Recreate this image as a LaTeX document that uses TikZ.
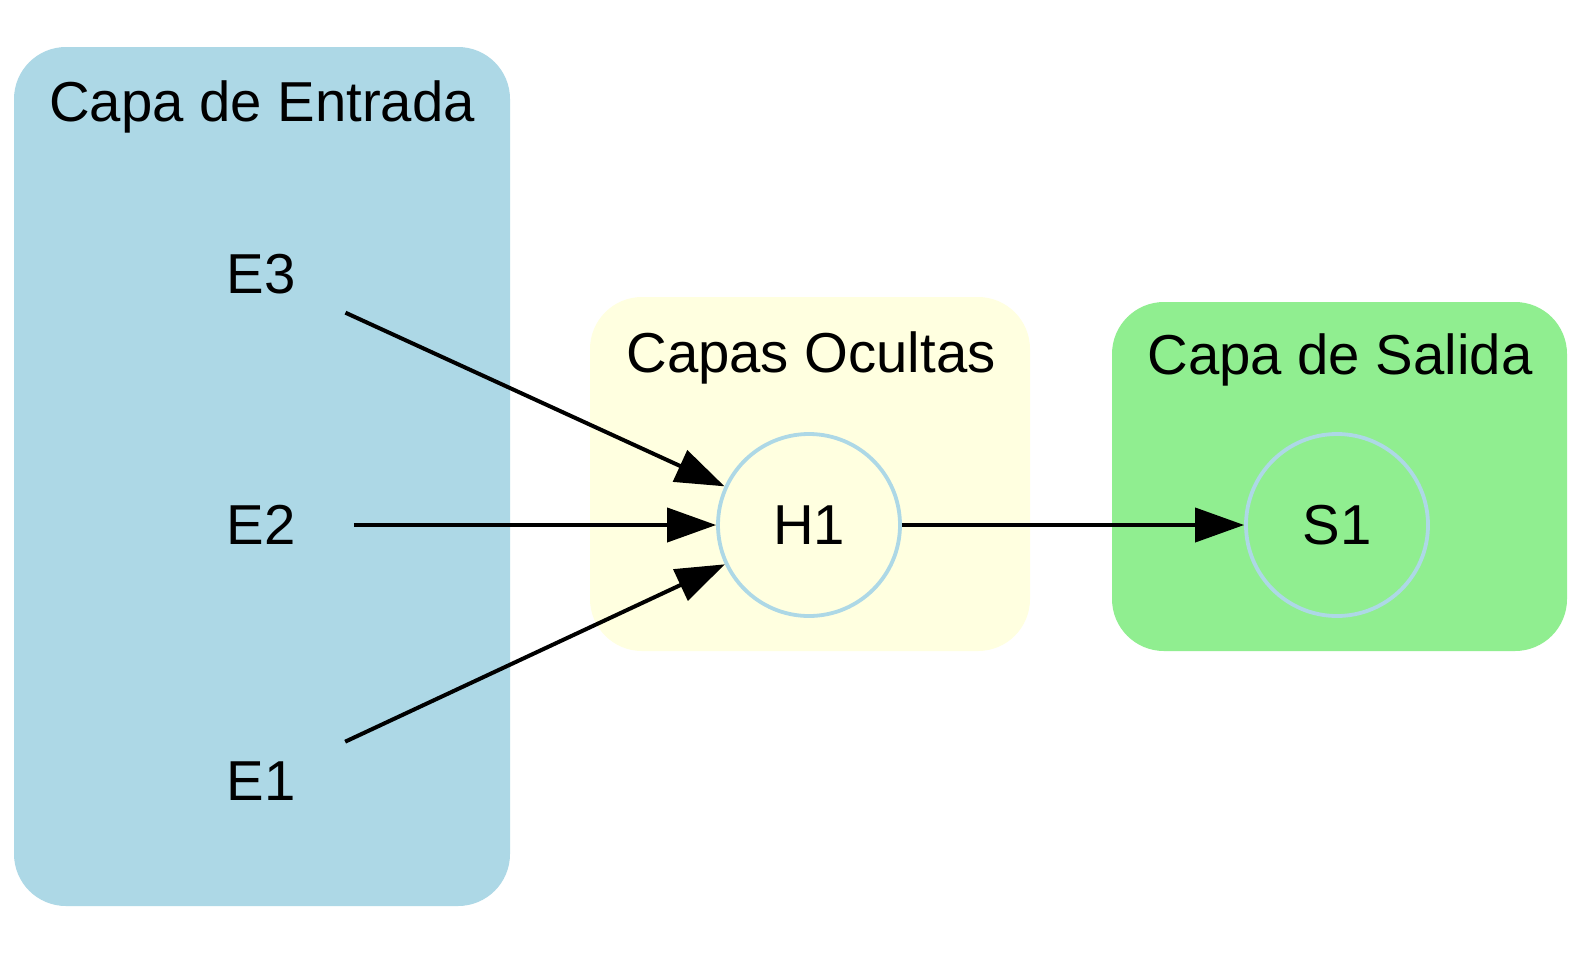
\documentclass[tikz,border=0pt]{standalone}
\usepackage{fontspec}
\setmainfont{Liberation Sans}
\usetikzlibrary{arrows.meta}
\definecolor{lblue}{HTML}{ADD8E6}
\definecolor{lyellow}{HTML}{FFFFE0}
\definecolor{lgreen}{HTML}{90EE90}
\begin{document}
\begin{tikzpicture}[x=1pt,y=-1pt,
  every node/.style={font=\fontsize{56.3}{68}\selectfont},
  neuron/.style={circle,draw=lblue,line width=3.8pt,minimum size=182pt,inner sep=0pt},
  cluster/.style={rounded corners=52pt},
  conn/.style={line width=4pt,-{Triangle[length=49pt,width=34pt]}}]
\useasboundingbox (0,0) rectangle (1581,954);
\fill[white] (0,0) rectangle (1581,954);
% clusters
\fill[lblue,cluster] (14,47) rectangle (510,906);
\fill[lyellow,cluster] (590,297) rectangle (1030,651);
\fill[lgreen,cluster] (1112,302) rectangle (1567,651);
\node (tin) at (262,107) {Capa de Entrada};
\node (thid) at (811,358) {Capas Ocultas};
\node (tout) at (1340,360) {Capa de Salida};
% neurons
\node[neuron,fill=lblue] (E3) at (261,274) {E3};
\node[neuron,fill=lblue] (E2) at (261,525) {E2};
\node[neuron,fill=lblue] (E1) at (261,781) {E1};
\node[neuron,fill=lyellow] (H1) at (809,525) {H1};
\node[neuron,fill=lgreen] (S1) at (1337,525) {S1};
% connectors
\draw[conn] (E3) -- (H1);
\draw[conn] (E2) -- (H1);
\draw[conn] (E1) -- (H1);
\draw[conn] (H1) -- (S1);
\end{tikzpicture}
\end{document}
